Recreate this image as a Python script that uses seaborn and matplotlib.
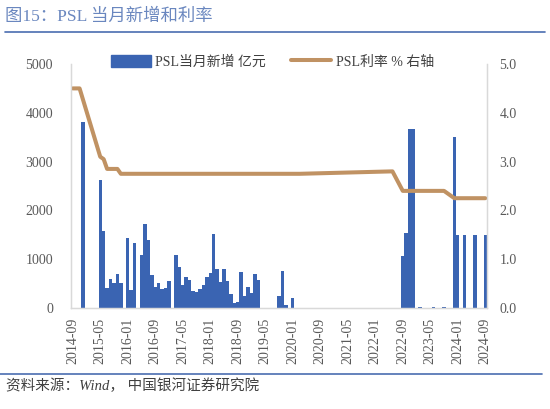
import matplotlib
matplotlib.use("Agg")
import pandas as pd
import matplotlib.pyplot as plt
import seaborn as sn
from matplotlib.patches import Patch
from matplotlib.lines import Line2D

# monthly axis 2014-09 .. 2024-09
months = pd.date_range("2014-09-01", "2024-09-01", freq="MS").strftime("%Y-%m").tolist()

# PSL new issuance, 100 mn yuan
psl_new = [0, 0, 0, 3820, 0, 0, 0, 0,
           2620, 1570, 420, 600, 510, 700, 520, 0,
           1430, 360, 1340, 0, 1080, 1720, 1390, 680, 440, 505, 380, 420, 545, 0,
           1085, 840, 470, 628, 580, 350, 318, 382, 468, 642, 715, 1510, 792, 526,
           792, 560, 297, 96, 120, 730, 248, 424, 300, 705, 580,
           0, 0, 0, 0, 0, 240, 750, 55, 0, 200,
           0, 0, 0, 0, 0, 0, 0, 0, 0, 0, 0, 0, 0, 0, 0, 0,
           0, 0, 0, 0, 0, 0, 0, 0, 0, 0, 0, 0, 0, 0, 0,
           1075, 1545, 3665, 3665, 0, 15, 0, 0, 0, 15, 0, 0, 15, 0, 0,
           3500, 1500, 0, 1500, 0, 0, 1500, 0, 0, 1500]

# PSL rate, % (points where the chart has data)
rate_months = ["2014-09", "2014-11", "2015-05", "2015-06", "2015-07", "2015-10",
               "2015-11", "2020-03", "2022-06", "2022-09", "2023-09", "2023-12", "2024-09"]
rate_values = [4.5, 4.5, 3.1, 3.05, 2.85, 2.85,
               2.75, 2.75, 2.8, 2.4, 2.4, 2.25, 2.25]

tick_labels = months[::8]

BAR_COLOR = "#3A64B2"
LINE_COLOR = "#C09263"
TXT = "#595959"

sn.set_style("white")
plt.rcParams["font.family"] = ["Liberation Serif", "Noto Sans CJK SC"]

df = pd.DataFrame({"month": months, "psl": psl_new})
df_rate = pd.DataFrame({"pos": [months.index(m) for m in rate_months], "rate": rate_values})

fig = plt.figure(figsize=(5.5, 4.09), dpi=100)
ax1 = fig.add_axes([71 / 550, 1 - 308 / 409, 416 / 550, 244 / 409])

sn.barplot(data=df, x="month", y="psl", color=BAR_COLOR, width=1.0,
           saturation=1, linewidth=0, ax=ax1)
ax1.set_xlim(-0.5, len(months) - 0.5)
ax1.set_ylim(0, 5000)
ax1.set_yticks(range(0, 5001, 1000))
ax1.set_xticks(range(0, len(months), 8))
ax1.set_xticklabels(tick_labels, rotation=90)
ax1.set_xlabel("")
ax1.set_ylabel("")
ax1.tick_params(axis="y", length=0, pad=13, labelsize=10, labelcolor=TXT)
ax1.tick_params(axis="x", length=0, pad=7, labelsize=10, labelcolor=TXT)

ax2 = ax1.twinx()
sn.lineplot(data=df_rate, x="pos", y="rate", color=LINE_COLOR, linewidth=2.9, ax=ax2)
ax2.set_ylim(0, 5)
ax2.set_yticks([0, 1, 2, 3, 4, 5])
ax2.set_yticklabels([f"{v:.1f}" for v in range(6)])
ax2.set_ylabel("")
ax2.tick_params(axis="y", length=0, pad=9, labelsize=10, labelcolor=TXT)

for ax in (ax1, ax2):
    ax.spines["top"].set_visible(False)
    for s in ("left", "right", "bottom"):
        ax.spines[s].set_color("#D9D9D9")
        ax.spines[s].set_linewidth(0.9)

handles = [Patch(color=BAR_COLOR), Line2D([], [], color=LINE_COLOR, linewidth=2.9)]
fig.legend(handles, ["PSL当月新增 亿元", "PSL利率 % 右轴"], loc="center left",
           bbox_to_anchor=(111 / 550, 1 - 62 / 409), ncol=2, frameon=False,
           fontsize=10, handlelength=2.9, handleheight=0.9, columnspacing=1.8,
           handletextpad=0.3, borderpad=0, borderaxespad=0, labelcolor="#404040")

# header / footer
fig.text(5 / 550, 1 - 17 / 409, "图15：PSL 当月新增和利率", fontsize=12.5,
         color="#6A87BF", va="center", ha="left")
fig.add_artist(Line2D([5 / 550, 545 / 550], [1 - 32 / 409, 1 - 32 / 409],
                      color="#4A6DB0", linewidth=1.2))
fig.add_artist(Line2D([0, 542 / 550], [1 - 374 / 409, 1 - 374 / 409],
                      color="#4A6DB0", linewidth=1.2))
fig.text(6 / 550, 1 - 386 / 409, "资料来源：Wind， 中国银河证券研究院", fontsize=10.5,
         color="#404040", va="center", ha="left", style="italic")

plt.savefig("out.png", dpi=100)
